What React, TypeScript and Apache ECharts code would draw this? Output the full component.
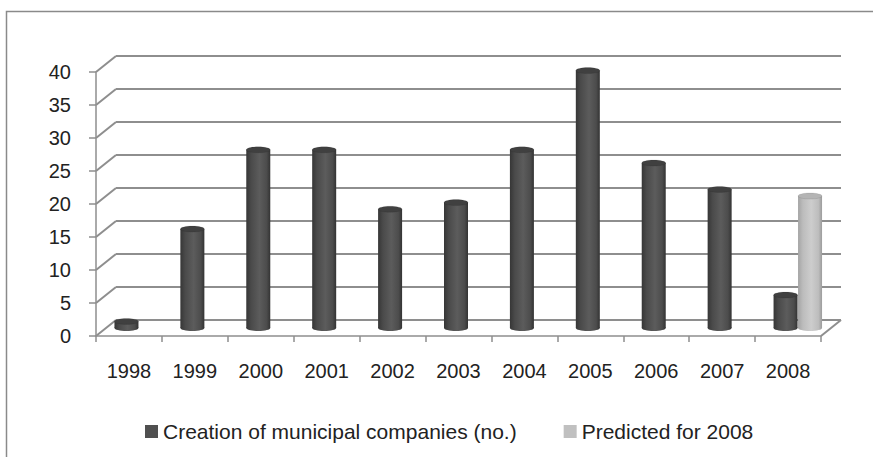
import React, { useEffect, useRef } from "react";
import * as echarts from "echarts";

const categories = ["1998", "1999", "2000", "2001", "2002", "2003", "2004", "2005", "2006", "2007", "2008"];
const createdCounts = [1, 15, 27, 27, 18, 19, 27, 39, 25, 21, 5];
const predictedCounts = [null, null, null, null, null, null, null, null, null, null, 20];
const valueTicks = [0, 5, 10, 15, 20, 25, 30, 35, 40];

const SERIES_CREATED = "Creation of municipal companies (no.)";
const SERIES_PREDICTED = "Predicted for 2008";

// depth of the 3D box (back wall offset relative to the front plane)
const DX = 20;
const DY = -16;
const BAR_W = 24;
// horizontal offset of each series' cylinder from the category centre
const SLOT = [-12.5 + DX / 2, 12 + DX / 2];

const FONT = "'Liberation Sans', Arial, sans-serif";
const TEXT = "#222222";
const GRID_COLOR = "#8e8e8e";

const palettes = [
  {
    legend: "#505050",
    body: [
      [0, "#363636"],
      [0.2, "#4a4a4a"],
      [0.55, "#5c5c5c"],
      [0.85, "#4c4c4c"],
      [1, "#333333"],
    ],
    top: "#404040",
  },
  {
    legend: "#c0c0c0",
    body: [
      [0, "#a4a4a4"],
      [0.2, "#bcbcbc"],
      [0.55, "#cdcdcd"],
      [0.85, "#bdbdbd"],
      [1, "#9c9c9c"],
    ],
    top: "#b4b4b4",
  },
];

function bodyGradient(stops: (number | string)[][]) {
  return new echarts.graphic.LinearGradient(
    0,
    0,
    1,
    0,
    stops.map(([offset, color]) => ({ offset: offset as number, color: color as string }))
  );
}

function cylinderRenderer(seriesIdx: number) {
  const pal = palettes[seriesIdx];
  return (params: any, api: any) => {
    const v = api.value(1);
    if (v === null || v === undefined || isNaN(v)) return null;
    const idx = api.value(0);
    const [cx0, yTop0] = api.coord([idx, v]);
    const yBase0 = api.coord([idx, 0])[1];
    const cx = cx0 + SLOT[seriesIdx];
    const top = yTop0 + DY / 2;
    const bottom = yBase0 + DY / 2;
    const rx = BAR_W / 2;
    const ry = 3;
    const grad = bodyGradient(pal.body);
    return {
      type: "group",
      children: [
        { type: "ellipse", shape: { cx, cy: bottom, rx, ry }, style: { fill: grad } },
        {
          type: "rect",
          shape: { x: cx - rx, y: top, width: BAR_W, height: Math.max(bottom - top, 0) },
          style: { fill: grad },
        },
        {
          type: "ellipse",
          shape: { cx, cy: top, rx, ry },
          style: { fill: pal.top, stroke: "rgba(0,0,0,0.15)", lineWidth: 0.6 },
        },
      ],
    };
  };
}

function wallRenderer(params: any, api: any) {
  const v = api.value(1);
  const cs = params.coordSys;
  const y = api.coord([0, v])[1];
  const x0 = cs.x;
  const x1 = cs.x + cs.width;
  const style = { stroke: GRID_COLOR, lineWidth: 2 };
  const children: any[] = [
    { type: "line", shape: { x1: x0, y1: y, x2: x0 + DX, y2: y + DY }, style },
    { type: "line", shape: { x1: x0 + DX, y1: y + DY, x2: x1 + DX, y2: y + DY }, style },
  ];
  if (v === 0) {
    children.push({ type: "line", shape: { x1: x1, y1: y, x2: x1 + DX, y2: y + DY }, style });
  }
  return { type: "group", children };
}

export default function App() {
  const ref = useRef<HTMLDivElement>(null);

  useEffect(() => {
    if (!ref.current) return;
    const chart = echarts.init(ref.current, null, { renderer: "svg" });
    chart.setOption({
      animation: false,
      backgroundColor: "#ffffff",
      textStyle: { fontFamily: FONT },
      graphic: [
        {
          type: "rect",
          z: -10,
          shape: { x: 6.5, y: 11.5, width: 900, height: 500 },
          style: { fill: "none", stroke: "#8a8a8a", lineWidth: 1.5 },
        },
      ],
      grid: { left: 96, right: 52, top: 72, bottom: 121 },
      legend: {
        left: 140,
        top: 416,
        itemWidth: 13,
        itemHeight: 13,
        itemGap: 47,
        icon: "rect",
        textStyle: { fontSize: 21, color: TEXT, fontFamily: FONT },
        data: [SERIES_CREATED, SERIES_PREDICTED],
      },
      xAxis: {
        type: "category",
        data: categories,
        boundaryGap: true,
        axisLine: { show: true, lineStyle: { color: GRID_COLOR, width: 1.5 } },
        axisTick: { show: true, length: 6, lineStyle: { color: GRID_COLOR, width: 1.5 } },
        axisLabel: { interval: 0, fontSize: 20, color: TEXT, margin: 25, fontFamily: FONT },
        splitLine: { show: false },
      },
      yAxis: {
        type: "value",
        min: 0,
        max: 40,
        interval: 5,
        axisLine: { show: true, lineStyle: { color: GRID_COLOR, width: 1.5 } },
        axisTick: { show: true, length: 7, lineStyle: { color: GRID_COLOR, width: 1.5 } },
        axisLabel: { fontSize: 20, color: TEXT, margin: 25, fontFamily: FONT },
        splitLine: { show: false },
      },
      series: [
        {
          type: "custom",
          name: "wall",
          silent: true,
          clip: false,
          z: 1,
          renderItem: wallRenderer,
          encode: { x: 0, y: 1 },
          data: valueTicks.map((v) => [0, v]),
        },
        {
          type: "custom",
          name: SERIES_CREATED,
          clip: false,
          z: 3,
          itemStyle: { color: palettes[0].legend },
          renderItem: cylinderRenderer(0),
          encode: { x: 0, y: 1 },
          data: createdCounts.map((v, i) => [i, v]),
        },
        {
          type: "custom",
          name: SERIES_PREDICTED,
          clip: false,
          z: 3,
          itemStyle: { color: palettes[1].legend },
          renderItem: cylinderRenderer(1),
          encode: { x: 0, y: 1 },
          data: predictedCounts.map((v, i) => [i, v === null ? NaN : v]),
        },
      ],
    });
    return () => chart.dispose();
  }, []);

  return (
    <div
      ref={ref}
      style={{ position: "absolute", left: 0, top: 0, width: 873, height: 457 }}
    />
  );
}
